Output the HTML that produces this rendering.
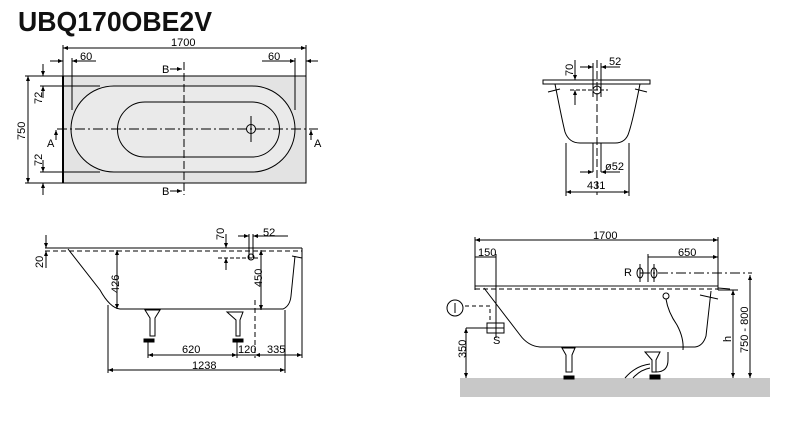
<!DOCTYPE html>
<html><head><meta charset="utf-8"><style>
html,body{margin:0;padding:0;background:#fff;}
svg{display:block;font-family:"Liberation Sans",sans-serif;}
</style></head><body>
<svg width="808" height="442" viewBox="0 0 808 442" xmlns="http://www.w3.org/2000/svg">
<defs>
<marker id="a" viewBox="0 0 10 10" refX="10" refY="5" markerWidth="6" markerHeight="5" orient="auto-start-reverse"><path d="M0,1 L10,5 L0,9 z" fill="#000"/></marker>
</defs>
<text x="18" y="31" font-size="28" font-weight="bold" fill="#111" textLength="194" lengthAdjust="spacingAndGlyphs">UBQ170OBE2V</text>

<!-- TOP LEFT PLAN -->
<g stroke="#000" fill="none" stroke-width="1">
<rect x="63" y="76" width="243" height="107" fill="#e3e3e3"/>
<line x1="63" y1="76" x2="63" y2="183" stroke-width="2"/>
<path d="M114,86 H252 A43,43 0 0 1 252,172 H114 A43,43 0 0 1 114,86 Z" fill="#eaeaea"/>
<path d="M145,102 H252 A27.5,27.5 0 0 1 252,157 H145 A27.5,27.5 0 0 1 145,102 Z"/>
<circle cx="251" cy="129" r="4.5"/>
<line x1="57" y1="129" x2="318" y2="129" stroke-dasharray="10,3,2,3"/>
<line x1="184" y1="62" x2="184" y2="195" stroke-dasharray="8,3"/>
<line x1="251" y1="116" x2="251" y2="142"/>
<line x1="63" y1="45" x2="63" y2="76"/><line x1="306" y1="45" x2="306" y2="76"/>
<line x1="63" y1="48" x2="306" y2="48" marker-start="url(#a)" marker-end="url(#a)"/>
<line x1="72" y1="58" x2="72" y2="110"/><line x1="295" y1="58" x2="295" y2="110"/>
<line x1="50" y1="61" x2="63" y2="61" marker-end="url(#a)"/><line x1="96" y1="61" x2="72" y2="61" marker-end="url(#a)"/>
<line x1="262" y1="61" x2="295" y2="61" marker-end="url(#a)"/><line x1="318" y1="61" x2="306" y2="61" marker-end="url(#a)"/>
<line x1="25" y1="76" x2="63" y2="76"/><line x1="25" y1="183" x2="63" y2="183"/>
<line x1="28" y1="76" x2="28" y2="183" marker-start="url(#a)" marker-end="url(#a)"/>
<line x1="40" y1="86" x2="100" y2="86"/><line x1="40" y1="172" x2="100" y2="172"/>
<line x1="43" y1="64" x2="43" y2="76" marker-end="url(#a)"/><line x1="43" y1="98" x2="43" y2="86" marker-end="url(#a)"/>
<line x1="43" y1="160" x2="43" y2="172" marker-end="url(#a)"/><line x1="43" y1="195" x2="43" y2="183" marker-end="url(#a)"/>
<line x1="170" y1="69" x2="182" y2="69" marker-end="url(#a)"/><line x1="170" y1="191" x2="182" y2="191" marker-end="url(#a)"/>
<line x1="56" y1="140" x2="56" y2="130" marker-end="url(#a)"/><line x1="311" y1="140" x2="311" y2="130" marker-end="url(#a)"/>
</g>
<g font-size="11" fill="#000">
<text x="171" y="46">1700</text><text x="80" y="60">60</text><text x="268" y="60">60</text>
<text x="162" y="73">B</text><text x="162" y="195">B</text>
<text x="47" y="147">A</text><text x="314" y="147">A</text>
<text transform="translate(25,140) rotate(-90)">750</text>
<text transform="translate(42,104) rotate(-90)">72</text>
<text transform="translate(42,166) rotate(-90)">72</text>
</g>

<!-- TOP RIGHT SECTION -->
<g stroke="#000" fill="none" stroke-width="1">
<rect x="543" y="80" width="107" height="4"/>
<path d="M555,84 Q562,120 565,132 Q569,143 580,143 H615 Q626,143 629,132 Q633,120 640,84"/>
<path d="M548,92 L560,89 M635,89 L647,92"/>
<line x1="597" y1="60" x2="597" y2="195" stroke-dasharray="8,3"/>
<line x1="593" y1="63" x2="593" y2="97"/><line x1="601" y1="63" x2="601" y2="97"/>
<circle cx="597" cy="90" r="4"/>
<line x1="570" y1="90" x2="608" y2="90" stroke-dasharray="4,2"/>
<line x1="575" y1="60" x2="575" y2="80" marker-end="url(#a)"/><line x1="575" y1="105" x2="575" y2="90" marker-end="url(#a)"/>
<line x1="580" y1="67" x2="593" y2="67" marker-end="url(#a)"/><line x1="620" y1="67" x2="601" y2="67" marker-end="url(#a)"/>
<line x1="593" y1="143" x2="593" y2="172"/><line x1="601" y1="143" x2="601" y2="172"/>
<line x1="580" y1="172" x2="593" y2="172" marker-end="url(#a)"/><line x1="620" y1="172" x2="601" y2="172" marker-end="url(#a)"/>
<line x1="566" y1="143" x2="566" y2="196"/><line x1="629" y1="143" x2="629" y2="196"/>
<line x1="566" y1="192" x2="629" y2="192" marker-start="url(#a)" marker-end="url(#a)"/>
</g>
<g font-size="11" fill="#000">
<text x="609" y="65">52</text><text x="605" y="170">ø52</text><text x="587" y="189">431</text>
<text transform="translate(573,76) rotate(-90)">70</text>
</g>

<!-- BOTTOM LEFT SIDE VIEW -->
<g stroke="#000" fill="none" stroke-width="1">
<line x1="45" y1="248" x2="302" y2="248"/>
<line x1="302" y1="248" x2="302" y2="255"/>
<line x1="45" y1="251" x2="302" y2="251" stroke-dasharray="5,3"/>
<path d="M68,249 L100,290 Q110,308 120,309 L283,309 Q290,306 291,296 L295,256"/>
<line x1="292" y1="256" x2="302" y2="258"/>
<path d="M145,310 H160 L155,318 L155,336 H150 L150,318 Z"/>
<path d="M227,312 H243 L240,320 L240,336 H236 L236,320 Z"/>
<rect x="144" y="339" width="10" height="3" fill="#000"/><rect x="233" y="339" width="10" height="3" fill="#000"/>
<line x1="255" y1="300" x2="255" y2="358" stroke-dasharray="5,3"/>
<line x1="249" y1="234" x2="249" y2="258"/><line x1="253" y1="234" x2="253" y2="258"/>
<circle cx="251" cy="257" r="3"/>
<line x1="218" y1="258" x2="258" y2="258" stroke-dasharray="4,2"/>
<line x1="226" y1="234" x2="226" y2="248" marker-end="url(#a)"/><line x1="226" y1="270" x2="226" y2="258" marker-end="url(#a)"/>
<line x1="238" y1="236" x2="249" y2="236" marker-end="url(#a)"/><line x1="288" y1="236" x2="253" y2="236" marker-end="url(#a)"/>
<line x1="46" y1="235" x2="46" y2="248" marker-end="url(#a)"/><line x1="46" y1="268" x2="46" y2="251" marker-end="url(#a)"/>
<line x1="117" y1="250" x2="117" y2="309" marker-start="url(#a)" marker-end="url(#a)"/>
<line x1="261" y1="250" x2="261" y2="310" marker-start="url(#a)" marker-end="url(#a)"/>
<line x1="148" y1="342" x2="148" y2="358"/><line x1="237" y1="342" x2="237" y2="358"/>
<line x1="302" y1="255" x2="302" y2="358"/><line x1="285" y1="310" x2="285" y2="373"/><line x1="108" y1="305" x2="108" y2="373"/>
<line x1="148" y1="355" x2="237" y2="355" marker-start="url(#a)" marker-end="url(#a)"/>
<line x1="237" y1="355" x2="255" y2="355"/>
<line x1="255" y1="355" x2="302" y2="355" marker-start="url(#a)" marker-end="url(#a)"/>
<line x1="108" y1="370" x2="285" y2="370" marker-start="url(#a)" marker-end="url(#a)"/>
</g>
<g font-size="11" fill="#000">
<text x="182" y="353">620</text><text x="238" y="353">120</text><text x="267" y="353">335</text>
<text x="192" y="369">1238</text><text x="263" y="236">52</text>
<text transform="translate(43,268) rotate(-90)">20</text>
<text transform="translate(119,293) rotate(-90)">426</text>
<text transform="translate(262,287) rotate(-90)">450</text>
<text transform="translate(224,240) rotate(-90)">70</text>
</g>

<!-- BOTTOM RIGHT INSTALL VIEW -->
<rect x="460" y="378" width="310" height="19" fill="#c8c8c8"/>
<g stroke="#000" fill="none" stroke-width="1">
<line x1="475" y1="286" x2="718" y2="286" stroke="#888" stroke-width="2"/>
<line x1="475" y1="289" x2="718" y2="289" stroke-dasharray="5,3"/>
<path d="M484,288 L520,335 Q528,346 540,347 L695,347 Q703,346 706,336 L711,291"/>
<line x1="700" y1="295" x2="718" y2="299"/>
<line x1="718" y1="288" x2="730" y2="289"/>
<circle cx="666" cy="296" r="3"/>
<path d="M666,299 Q668,312 677,325 Q684,338 683,350"/>
<path d="M562,348 H575 L572,355 V372 H566 V355 Z"/>
<rect x="564" y="376" width="10" height="3" fill="#000"/>
<path d="M645,352 H660 L656,360 V372 H652 V360 Z"/>
<rect x="650" y="375" width="10" height="4" fill="#000"/>
<path d="M625,378 Q635,366 650,364 M633,378 Q640,370 650,368"/>
<path d="M668,352 V360 Q668,372 656,372"/>
<line x1="475" y1="237" x2="475" y2="290"/><line x1="718" y1="237" x2="718" y2="290"/>
<line x1="475" y1="240" x2="718" y2="240" marker-start="url(#a)" marker-end="url(#a)"/>
<line x1="496" y1="254" x2="496" y2="338"/>
<line x1="475" y1="257" x2="496" y2="257"/>
<line x1="648" y1="254" x2="648" y2="282"/>
<line x1="648" y1="257" x2="718" y2="257" marker-end="url(#a)"/>
<line x1="640" y1="273" x2="752" y2="273" stroke-dasharray="10,3,2,3"/>
<ellipse cx="640" cy="273" rx="3" ry="5"/><ellipse cx="654" cy="273" rx="3" ry="5"/>
<line x1="640" y1="264" x2="640" y2="282"/><line x1="654" y1="264" x2="654" y2="282"/>
<circle cx="455" cy="308" r="8"/><line x1="455" y1="303" x2="455" y2="313"/>
<path d="M465,306 H490 V323" stroke-dasharray="4,3"/>
<rect x="487" y="323" width="17" height="10"/><line x1="487" y1="328" x2="504" y2="328"/>
<line x1="466" y1="328" x2="487" y2="328"/>
<line x1="466" y1="328" x2="466" y2="378" marker-start="url(#a)" marker-end="url(#a)"/>
<line x1="718" y1="290" x2="738" y2="290"/>
<line x1="733" y1="290" x2="733" y2="378" marker-start="url(#a)" marker-end="url(#a)"/>
<line x1="750" y1="275" x2="750" y2="378" marker-start="url(#a)" marker-end="url(#a)"/>
</g>
<g font-size="11" fill="#000">
<text x="593" y="239">1700</text><text x="478" y="256">150</text><text x="678" y="256">650</text>
<text x="624" y="276">R</text><text x="493" y="344">S</text>
<text transform="translate(466,358) rotate(-90)">350</text>
<text transform="translate(731,342) rotate(-90)">h</text>
<text transform="translate(748,353) rotate(-90)">750 - 800</text>
</g>
</svg>
</body></html>
